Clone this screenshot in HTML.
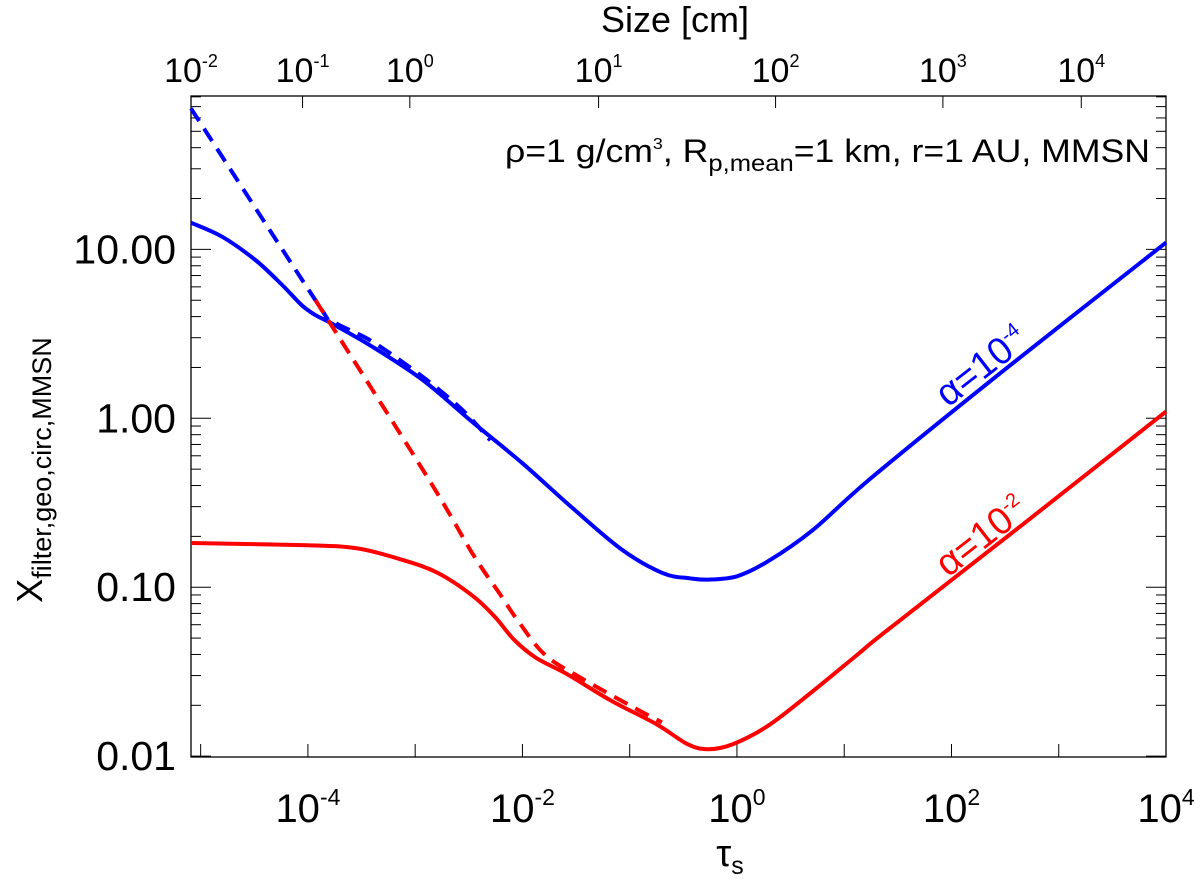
<!DOCTYPE html>
<html><head><meta charset="utf-8"><style>
body{margin:0;background:#fff;}
svg text{font-family:"Liberation Sans",Arial,sans-serif;fill:#000;}
</style></head><body>
<svg id="chart" width="1200" height="874" viewBox="0 0 1200 874" xmlns="http://www.w3.org/2000/svg">
</svg>
<script>
const xTicksBottom=[-4,-2,0,2,4];
const topTickPos=[-5.09,-4.05,-3.05,-1.29,0.36,1.92,3.21];
const topTickExp=["-2","-1","0","1","2","3","4"];
const yTicks=[-2,-1,0,1];
const yTickLabels=["0.01","0.10","1.00","10.00"];
const blueSolidX=[-5.09,-4.8,-4.49,-4.24,-4.06,-3.93,-3.78,-3.4,-2.93,-2.47,-2.0,-1.53,-1.07,-0.69,-0.44,-0.27,0,0.29,0.71,1.25,2.5,4];
const blueSolidY=[1.158,1.075,0.937,0.789,0.671,0.611,0.562,0.424,0.227,-0.02,-0.266,-0.533,-0.779,-0.917,-0.947,-0.955,-0.935,-0.846,-0.66,-0.354,0.29,1.04];
const blueDashX=[-5.09,-3.93,-3.78,-3.4,-2.93,-2.56,-2.3];
const blueDashY=[1.834,0.70,0.58,0.454,0.246,0.05,-0.13];
const redSolidX=[-5.09,-4,-3.54,-3.125,-2.79,-2.46,-2.25,-2.08,-1.875,-1.58,-1.17,-0.75,-0.46,-0.27,-0.04,0.29,0.71,1.125,1.41,2.7,4];
const redSolidY=[-0.738,-0.752,-0.77,-0.837,-0.915,-1.053,-1.18,-1.31,-1.417,-1.516,-1.673,-1.811,-1.929,-1.959,-1.929,-1.82,-1.614,-1.398,-1.25,-0.61,0.04];
const redDashX=[-3.93,-2.88,-2.46,-2.21,-2.04,-1.79,-1.46,-0.96,-0.7];
const redDashY=[0.70,-0.354,-0.807,-1.04,-1.2,-1.40,-1.535,-1.713,-1.80];

const L=191,R=1166,T=96,B=757;
const X0=-5.09,X1=4.0,Y0=-2.005,Y1=1.908;
const sx=v=>L+(v-X0)/(X1-X0)*(R-L);
const sy=v=>B-(v-Y0)/(Y1-Y0)*(B-T);
const svg=document.getElementById('chart');
const NS='http://www.w3.org/2000/svg';
function mk(tag,attrs,parent){const e=document.createElementNS(NS,tag);for(const k in attrs)e.setAttribute(k,attrs[k]);(parent||svg).appendChild(e);return e;}

const frame=mk('rect',{x:L,y:T,width:R-L,height:B-T,fill:'none',stroke:'#000','stroke-width':1.3});



for(let d=-5;d<=4;d++){
  if(d<X0)continue;
  const x=sx(d);
  const t=mk('line',{x1:x,y1:B,x2:x,y2:B-13,stroke:'#000','stroke-width':1});
  
  
}
xTicksBottom.forEach(d=>{
  const g=mk('text',{x:sx(d),y:822,'text-anchor':'middle','font-size':40});
  
  
  g.innerHTML='10<tspan dy="-17" font-size="23">'+d+'</tspan>';
});
const xt=mk('text',{x:730,y:866,'text-anchor':'middle','font-size':38});


xt.innerHTML='τ<tspan dy="8" font-size="25">s</tspan>';

topTickPos.forEach((p,i)=>{
  const x=sx(p);
  const t=mk('line',{x1:x,y1:T,x2:x,y2:T+12,stroke:'#000','stroke-width':1});
  
  
  const g=mk('text',{x:x,y:82,'text-anchor':'middle','font-size':34});
  
  
  g.innerHTML='10<tspan dy="-15" font-size="18">'+topTickExp[i]+'</tspan>';
});
const tt=mk('text',{x:675,y:32,'text-anchor':'middle','font-size':36});


tt.textContent='Size [cm]';

for(let d=-2;d<=1;d++){
  for(let m=1;m<=9;m++){
    const v=d+Math.log10(m);
    if(v>Y1||v<Y0)continue;
    const y=sy(v),len=m===1?20:10;
    const a=mk('line',{x1:L,y1:y,x2:L+len,y2:y,stroke:'#000','stroke-width':1});
    
    
    const b=mk('line',{x1:R,y1:y,x2:R-len,y2:y,stroke:'#000','stroke-width':1});
    
    
  }
}
yTicks.forEach((d,i)=>{
  const g=mk('text',{x:176,y:sy(d)+14,'text-anchor':'end','font-size':41});
  
  
  g.textContent=yTickLabels[i];
});
const yt=mk('text',{transform:'translate(42,470) rotate(-90)','text-anchor':'middle','font-size':36});


yt.innerHTML='X<tspan dy="9" font-size="27">filter,geo,circ,MMSN</tspan>';

function smoothPath(xs,ys){
  const p=xs.map((v,i)=>[sx(v),sy(ys[i])]);
  let d='M'+p[0][0].toFixed(1)+','+p[0][1].toFixed(1);
  for(let i=0;i<p.length-1;i++){
    const p0=p[Math.max(0,i-1)],p1=p[i],p2=p[i+1],p3=p[Math.min(p.length-1,i+2)];
    const c1=[p1[0]+(p2[0]-p0[0])/6,p1[1]+(p2[1]-p0[1])/6];
    const c2=[p2[0]-(p3[0]-p1[0])/6,p2[1]-(p3[1]-p1[1])/6];
    d+=' C'+c1[0].toFixed(1)+','+c1[1].toFixed(1)+' '+c2[0].toFixed(1)+','+c2[1].toFixed(1)+' '+p2[0].toFixed(1)+','+p2[1].toFixed(1);
  }
  return d;
}
function series(xs,ys,color,dash,name){
  const p=mk('path',{d:smoothPath(xs,ys),fill:'none',stroke:color,'stroke-width':4,'stroke-linejoin':'round'});
  if(dash)p.setAttribute('stroke-dasharray','15,9');
  
  
}
series(blueSolidX,blueSolidY,'#0000ff',false,'blue-solid-line');
series(blueDashX,blueDashY,'#0000ff',true,'blue-dashed-line');
series(redSolidX,redSolidY,'#ff0000',false,'red-solid-line');
series(redDashX,redDashY,'#ff0000',true,'red-dashed-line');

const ann=mk('text',{x:505,y:162,'font-size':32,textLength:645,lengthAdjust:'spacingAndGlyphs'});


ann.innerHTML='ρ=1 g/cm<tspan dy="-13" font-size="16">3</tspan><tspan dy="13">, R</tspan><tspan dy="9" font-size="23">p,mean</tspan><tspan dy="-9">=1 km, r=1 AU, MMSN</tspan>';

const a1=mk('text',{transform:'translate(948,408) rotate(-38)','font-size':38,style:'fill:#0000ff'});


a1.innerHTML='α=10<tspan dy="-15" font-size="20">-4</tspan>';
const a2=mk('text',{transform:'translate(948,578) rotate(-38)','font-size':38,style:'fill:#ff0000'});


a2.innerHTML='α=10<tspan dy="-15" font-size="20">-2</tspan>';
</script>
</body></html>
